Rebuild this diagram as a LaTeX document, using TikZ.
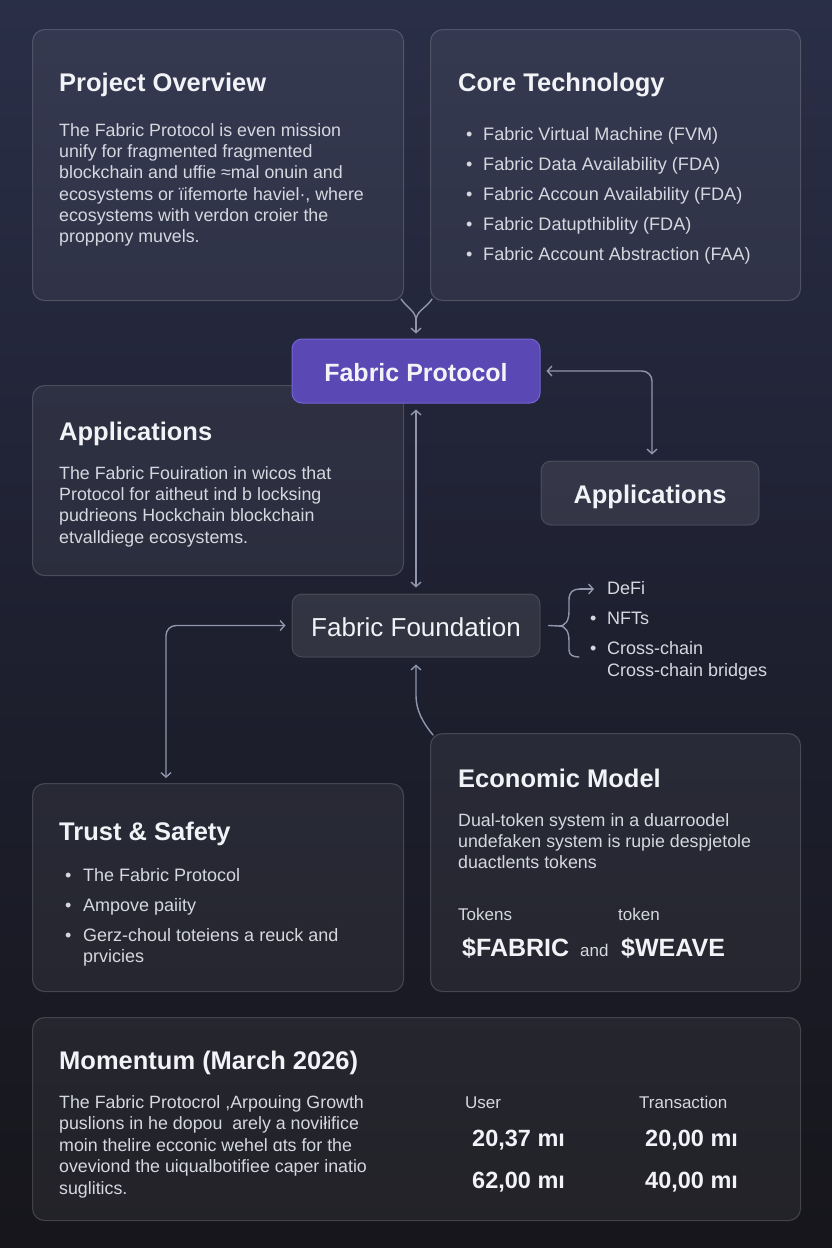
\documentclass[tikz,border=0pt]{standalone}
\usepackage{fontspec}
\setmainfont{Liberation Sans}
\usetikzlibrary{arrows.meta,calc}
\definecolor{bgtop}{HTML}{2A2F48}
\definecolor{bgmid}{HTML}{1E2030}
\definecolor{bgbot}{HTML}{16161B}
\definecolor{conn}{HTML}{9097AD}
\definecolor{titlec}{HTML}{F2F3F7}
\definecolor{bodyc}{HTML}{D6D8E0}
\definecolor{purp}{HTML}{5A48B4}
\definecolor{purpb}{HTML}{7564D4}
\begin{document}
\begin{tikzpicture}[x=1pt,y=-1pt,
  >={Straight Barb[length=4.5pt,width=10pt]},
  card/.style={draw=white, draw opacity=0.17, fill=white, fill opacity=0.055, rounded corners=12pt, line width=1.1pt, anchor=north west, inner sep=0pt},
  hub/.style={draw=white, draw opacity=0.14, fill=white, fill opacity=0.09, rounded corners=10pt, line width=1pt, inner sep=0pt},
  ttl/.style={anchor=base west, inner sep=0pt, text=titlec, font=\bfseries\fontsize{25.5}{30}\selectfont},
  body/.style={anchor=north west, inner sep=0pt, text=bodyc, align=left, font=\fontsize{17.8}{21.3}\selectfont},
  lbl/.style={anchor=base west, inner sep=0pt, text=bodyc, font=\fontsize{17}{20}\selectfont},
  num/.style={anchor=base west, inner sep=0pt, text=titlec, font=\bfseries\fontsize{23.5}{28}\selectfont},
  cline/.style={draw=conn, line width=1.4pt, line cap=round, line join=round}]
\shade[top color=bgtop, bottom color=bgbot, middle color=bgmid] (0,0) rectangle (832,1248);
\useasboundingbox (0,0) rectangle (832,1248);

% cards
\node[card, minimum width=371pt, minimum height=271pt] (po) at (32,29) {};
\node[card, minimum width=370pt, minimum height=271pt] (ct) at (430,29) {};
\node[card, minimum width=371pt, minimum height=190pt] (ap) at (32,385) {};
\node[card, minimum width=371pt, minimum height=208pt] (ts) at (32,783) {};
\node[card, minimum width=370pt, minimum height=258pt] (em) at (430,733) {};
\node[card, minimum width=768pt, minimum height=203pt] (mo) at (32,1017) {};

% hubs
\node[draw=purpb, fill=purp, rounded corners=10pt, line width=1pt, minimum width=248pt, minimum height=64pt, inner sep=0pt] (fp) at (416,371) {};
\node[inner sep=0pt, text=titlec, font=\bfseries\fontsize{25}{30}\selectfont] (fpt) at ([yshift=-2pt]fp.center) {Fabric Protocol};
\node[hub, minimum width=218pt, minimum height=64pt] (apr) at (650,493) {};
\node[inner sep=0pt, text=titlec, font=\bfseries\fontsize{25.5}{30}\selectfont] (aprt) at ([yshift=-4pt]apr.center) {Applications};
\node[hub, minimum width=248pt, minimum height=63pt] (ff) at (416,625.5) {};
\node[inner sep=0pt, text=titlec, font=\fontsize{26}{30}\selectfont] (fft) at ([yshift=-1.5pt]ff.center) {Fabric Foundation};

% Project overview
\node[ttl] (pot) at (59,91) {Project Overview};
\node[body] (pob) at (59,123) {The Fabric Protocol is even mission\\unify for fragmented fragmented\\blockchain and uffie ≈mal onuin and\\ecosystems or ïifemorte haviel·, where\\ecosystems with verdon croier the\\proppony muvels.};

% Core technology
\node[ttl] (ctt) at (458,91) {Core Technology};
\node[body, font=\fontsize{18.1}{30}\selectfont] (ctb) at (466,127) {\makebox[17pt][l]{\textbullet}Fabric Virtual Machine (FVM)\\\makebox[17pt][l]{\textbullet}Fabric Data Availability (FDA)\\\makebox[17pt][l]{\textbullet}Fabric Accoun Availability (FDA)\\\makebox[17pt][l]{\textbullet}Fabric Datupthiblity (FDA)\\\makebox[17pt][l]{\textbullet}Fabric Account Abstraction (FAA)};

% Applications (left)
\node[ttl] (apt) at (59,440) {Applications};
\node[body] (apb) at (59,466) {The Fabric Fouiration in wicos that\\Protocol for aitheut ind b locksing\\pudrieons Hockchain blockchain\\etvalldiege ecosystems.};

% Trust & Safety
\node[ttl] (tst) at (59,840) {Trust \& Safety};
\node[body, font=\fontsize{18}{21}\selectfont] (tsb) at (65,868) {\makebox[18pt][l]{\textbullet}The Fabric Protocol\\[9pt]\makebox[18pt][l]{\textbullet}Ampove paiity\\[9pt]\makebox[18pt][l]{\textbullet}Gerz-choul toteiens a reuck and\\\makebox[18pt][l]{}prvicies};

% Economic model
\node[ttl] (emt) at (458,787) {Economic Model};
\node[body] (emb) at (458,813) {Dual-token system in a duarroodel\\undefaken system is rupie despjetole\\duactlents tokens};
\node[lbl] (tk1) at (458,920) {Tokens};
\node[lbl] (tk2) at (618,920) {token};
\node[anchor=base west, inner sep=0pt, text=titlec, font=\bfseries\fontsize{25}{30}\selectfont] (fab) at (462,956) {\$FABRIC};
\node[anchor=base west, inner sep=0pt, text=bodyc, font=\fontsize{17}{20}\selectfont] (and) at (580,956) {and};
\node[anchor=base west, inner sep=0pt, text=titlec, font=\bfseries\fontsize{25}{30}\selectfont] (wea) at (621,956) {\$WEAVE};

% Momentum
\node[ttl] (mot) at (59,1069) {Momentum (March 2026)};
\node[body, font=\fontsize{17.8}{21.5}\selectfont] (mob) at (59,1095) {The Fabric Protocrol ,Arpouing Growth\\puslions in he dopou\ \ arely a noviłifice\\moin thelire ecconic wehel ɑts for the\\oveviond the uiqualbotifiee caper inatio\\suglitics.};
\node[lbl] (us) at (465,1108) {User};
\node[lbl] (tr) at (639,1108) {Transaction};
\node[num] (n1) at (472,1146) {20,37 mı};
\node[num] (n2) at (645,1146) {20,00 mı};
\node[num] (n3) at (472,1188) {62,00 mı};
\node[num] (n4) at (645,1188) {40,00 mı};

% DeFi list
\node[body, font=\fontsize{18}{22}\selectfont] (dl) at (590,581) {\makebox[17pt][l]{}DeFi\\[8pt]\makebox[17pt][l]{\textbullet}NFTs\\[8pt]\makebox[17pt][l]{\textbullet}Cross-chain\\\makebox[17pt][l]{}Cross-chain bridges};

% connectors
\coordinate (mg) at (416,321);
\draw[cline] ($(po.south east)+(-3,-2)$) .. controls +(7,10) and +(0,-10) .. (mg);
\draw[cline] ($(ct.south west)+(2,-2)$) .. controls +(-7,10) and +(0,-10) .. (mg);
\draw[cline,->,shorten >=5pt] (mg) -- (fp.north);
\draw[cline,<->,rounded corners=10pt,shorten <=6pt,shorten >=6pt] (fp.east) -| ([xshift=2pt]apr.north);
\draw[cline,<->,shorten <=6pt,shorten >=6pt] (fp.south) -- (ff.north);
\coordinate (tsin) at ($(ts.north west)+(134,0)$);
\draw[cline,<->,rounded corners=10pt,shorten <=6pt,shorten >=5pt] (ff.west) -| (tsin);
\draw[cline,->,shorten >=7pt] ($(em.north west)+(3,2)$) .. controls +(-10,-12) and +(0,14) .. (416,696) -- (ff.south);
\coordinate (bs) at ($(ff.east)+(8,0)$);
\coordinate (defi) at ($(dl.north west)+(4,8)$);
\draw[cline] (bs) -- (559,626) .. controls (566,626) and (569,620) .. (569,611) -- (569,600) .. controls (569,592) and (573,589) .. (580,589);
\draw[cline,->] (580,589) -- (defi);
\draw[cline] (559,626) .. controls (566,626) and (569,632) .. (569,641) -- (569,650) .. controls (569,655) and (573,657) .. (579,657);
\end{tikzpicture}
\end{document}
